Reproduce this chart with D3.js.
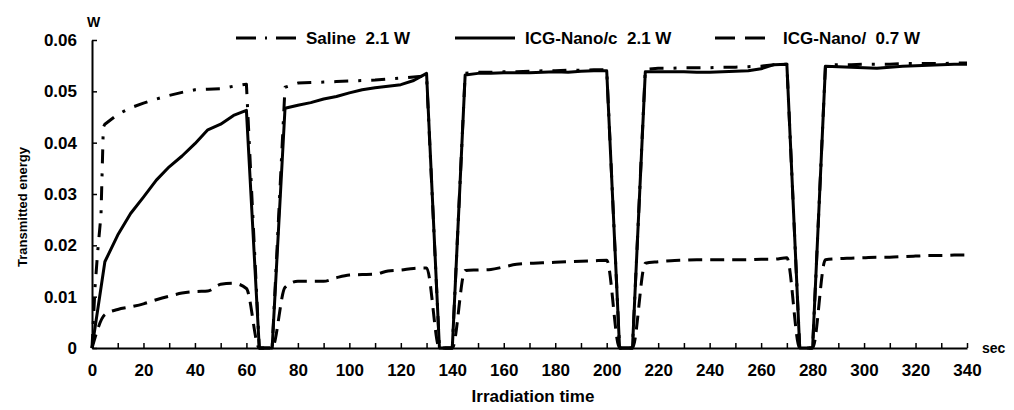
<!DOCTYPE html>
<html>
<head>
<meta charset="utf-8">
<script src="https://cdn.jsdelivr.net/npm/d3@7"></script>
<style>
  body { margin: 0; background: #fff; }
  svg { display: block; font-family: "Liberation Sans", Arial, sans-serif; }
</style>
</head>
<body>
<div id="chart"></div>
<script>
// irradiation time (sec) shared by all three series
const time = [
  0, 5, 10, 15, 20, 25, 30, 35, 40, 45, 50, 55, 60,
  65, 70,
  75, 80, 85, 90, 95, 100, 105, 110, 115, 120, 125, 130,
  135, 140,
  145, 150, 155, 160, 165, 170, 175, 180, 185, 190, 195, 200,
  205, 210,
  215, 220, 225, 230, 235, 240, 245, 250, 255, 260, 265, 270,
  275, 280,
  285, 290, 295, 300, 305, 310, 315, 320, 325, 330, 335, 340
];

const saline = [
  0, 0.0436, 0.0455, 0.0468, 0.0477, 0.0485, 0.0492, 0.0498, 0.0503, 0.0504, 0.0505, 0.0510, 0.0514,
  0, 0,
  0.0508, 0.0516, 0.0517, 0.0518, 0.0519, 0.0520, 0.0521, 0.0522, 0.0524, 0.0526, 0.0528, 0.0530,
  0, 0,
  0.0535, 0.0537, 0.0537, 0.0538, 0.0538, 0.0539, 0.0540, 0.0540, 0.0541, 0.0541, 0.0542, 0.0542,
  0, 0,
  0.0543, 0.0545, 0.0545, 0.0546, 0.0546, 0.0546, 0.0547, 0.0547, 0.0548, 0.0549, 0.0552, 0.0553,
  0, 0,
  0.0551, 0.0552, 0.0552, 0.0553, 0.0553, 0.0553, 0.0554, 0.0554, 0.0554, 0.0554, 0.0555, 0.0555
];
// saline rises faster than the 5 s sampling in the first seconds
const salineRiseTime = [1.2, 2.2, 3.5, 4.4];
const salineRiseValue = [0.012, 0.0187, 0.026, 0.043];

const nanoC = [
  0, 0.0168, 0.0220, 0.0262, 0.0294, 0.0327, 0.0353, 0.0374, 0.0398, 0.0425, 0.0436, 0.0453, 0.0463,
  0, 0,
  0.0467, 0.0473, 0.0478, 0.0485, 0.0490, 0.0497, 0.0503, 0.0507, 0.0510, 0.0513, 0.0521, 0.0535,
  0, 0,
  0.0532, 0.0535, 0.0535, 0.0536, 0.0536, 0.0536, 0.0537, 0.0538, 0.0537, 0.0539, 0.0540, 0.0540,
  0, 0,
  0.0538, 0.0538, 0.0538, 0.0538, 0.0537, 0.0537, 0.0538, 0.0539, 0.0540, 0.0544, 0.0552, 0.0553,
  0, 0,
  0.0549, 0.0548, 0.0547, 0.0546, 0.0545, 0.0547, 0.0549, 0.0550, 0.0551, 0.0552, 0.0553, 0.0553
];

const nano07 = [
  0, 0.0065, 0.0075, 0.0080, 0.0086, 0.0094, 0.0101, 0.0107, 0.0110, 0.0111, 0.0124, 0.0126, 0.0116,
  0, 0,
  0.0118, 0.0130, 0.0130, 0.0130, 0.0137, 0.0142, 0.0143, 0.0144, 0.0150, 0.0152, 0.0155, 0.0156,
  0, 0,
  0.0151, 0.0152, 0.0153, 0.0158, 0.0163, 0.0165, 0.0166, 0.0167, 0.0168, 0.0169, 0.0170, 0.0171,
  0, 0,
  0.0165, 0.0168, 0.0170, 0.0171, 0.0172, 0.0172, 0.0172, 0.0172, 0.0172, 0.0173, 0.0173, 0.0176,
  0, 0,
  0.0172, 0.0174, 0.0175, 0.0176, 0.0177, 0.0177, 0.0178, 0.0179, 0.0180, 0.0180, 0.0181, 0.0181
];

const xTicks = d3.range(0, 341, 10);
const yTicks = [0, 0.01, 0.02, 0.03, 0.04, 0.05, 0.06];
const legendLabels = ['Saline  2.1 W', 'ICG-Nano/c  2.1 W', 'ICG-Nano/  0.7 W'];

const width = 1014, height = 410;
const margin = { top: 40, right: 45, bottom: 62, left: 92 };

const svg = d3.select('#chart').append('svg')
  .attr('width', width).attr('height', height);

const x = d3.scaleLinear().domain([0, 340]).range([margin.left, width - margin.right - 2]);
const y = d3.scaleLinear().domain([0, 0.06]).range([height - margin.bottom, margin.top]);

// axes
const xAxis = svg.append('g')
  .attr('transform', `translate(0,${y(0)})`)
  .call(d3.axisBottom(x).tickValues(xTicks).tickSizeInner(-5).tickSizeOuter(0).tickPadding(16)
    .tickFormat(d => d % 20 === 0 ? d : ''));

const yAxis = svg.append('g')
  .attr('transform', `translate(${x(0)},0)`)
  .call(d3.axisLeft(y).tickValues(yTicks).tickSizeInner(-5).tickSizeOuter(0).tickPadding(15)
    .tickFormat(d => d === 0 ? '0' : d3.format('.2f')(d)));

[xAxis, yAxis].forEach(g => {
  g.select('.domain').attr('stroke', '#000').attr('stroke-width', 2);
  g.selectAll('.tick line').attr('stroke', '#000').attr('stroke-width', 1.5);
  g.selectAll('.tick text').attr('fill', '#000').attr('font-size', 17).attr('font-weight', 'bold')
    .attr('font-family', '"Liberation Sans", Arial, sans-serif');
});

// lines
const pts = vals => time.map((t, i) => [t, vals[i]]);
const salinePts = pts(saline);
salinePts.splice(1, 0, ...salineRiseTime.map((t, i) => [t, salineRiseValue[i]]));

const lineLinear = d3.line().x(d => x(d[0])).y(d => y(d[1]));
const lineSmooth = d3.line().x(d => x(d[0])).y(d => y(d[1])).curve(d3.curveMonotoneX);

const series = [
  { data: salinePts, gen: lineLinear, dash: '14,10,3,10' },
  { data: pts(nanoC), gen: lineLinear, dash: null },
  { data: pts(nano07), gen: lineSmooth, dash: '14,8' },
];

series.forEach(s => {
  svg.append('path')
    .attr('d', s.gen(s.data))
    .attr('fill', 'none')
    .attr('stroke', '#000')
    .attr('stroke-width', 3)
    .attr('stroke-linejoin', 'round')
    .attr('stroke-dasharray', s.dash);
});

// legend
const legendItems = [
  { x1: 236, x2: 297, tx: 306, dash: '20,9,2,9' },
  { x1: 455, x2: 515, tx: 525, dash: null },
  { x1: 715, x2: 775, tx: 783, dash: '20,10' },
];
const legend = svg.append('g').attr('class', 'legend');
legendItems.forEach((d, i) => {
  legend.append('line')
    .attr('x1', d.x1).attr('x2', d.x2).attr('y1', 38).attr('y2', 38)
    .attr('stroke', '#000').attr('stroke-width', 3)
    .attr('stroke-dasharray', d.dash);
  legend.append('text')
    .attr('x', d.tx).attr('y', 44)
    .attr('font-size', 17).attr('font-weight', 'bold')
    .style('white-space', 'pre')
    .text(legendLabels[i]);
});

// labels
svg.append('text')
  .attr('x', 87).attr('y', 27)
  .attr('font-size', 14).attr('font-weight', 'bold')
  .text('W');

svg.append('text')
  .attr('x', 982).attr('y', 353)
  .attr('font-size', 14).attr('font-weight', 'bold')
  .text('sec');

svg.append('text')
  .attr('x', 533).attr('y', 402)
  .attr('text-anchor', 'middle')
  .attr('font-size', 17).attr('font-weight', 'bold')
  .text('Irradiation time');

svg.append('text')
  .attr('transform', 'translate(27,207) rotate(-90)')
  .attr('text-anchor', 'middle')
  .attr('font-size', 13).attr('font-weight', 'bold')
  .text('Transmitted energy');
</script>
</body>
</html>
